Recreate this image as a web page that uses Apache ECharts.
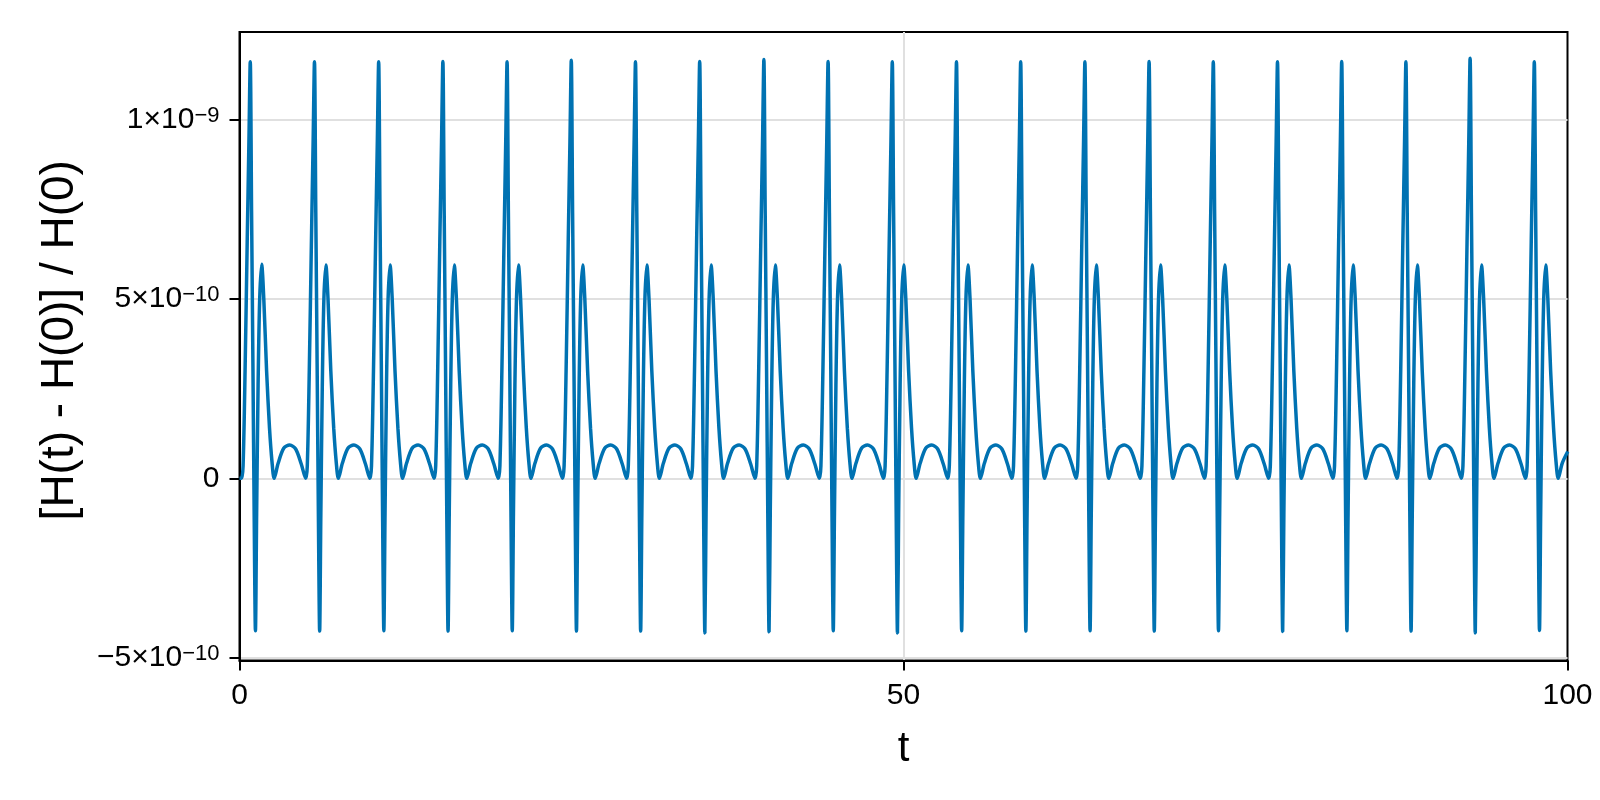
<!DOCTYPE html>
<html>
<head>
<meta charset="utf-8">
<script src="https://cdn.jsdelivr.net/npm/echarts@6/dist/echarts.min.js"></script>
<style>
  html, body { margin: 0; padding: 0; background: #ffffff; }
  #chart { width: 1600px; height: 800px; }
</style>
</head>
<body>
<div id="chart"></div>
<script>
// ---- data (values in units of 1e-10) ----
const valueUnit = 1e-10;
const startT = [0];
const startV = [0.0];
// time of each tall spike (one per orbit)
const peakTimes = [0.81, 5.645, 10.479, 15.314, 20.148, 24.983, 29.817, 34.652, 39.486, 44.321,
  49.155, 53.99, 58.824, 63.659, 68.493, 73.328, 78.162, 82.997, 87.831, 92.666, 97.5];
// time offsets of the sampled points inside one orbit, relative to its spike
const phaseOffsets = [-0.66, -0.54, -0.39, -0.23, -0.10, 0, 0.10, 0.20, 0.30, 0.39, 0.48, 0.59,
  0.71, 0.86, 1.02, 1.23, 1.45, 1.64, 1.80, 2.10, 2.52, 2.97, 3.42, 3.84];
// sampled values of each orbit
const cycleValues = [
  [0.00, 0.35, 3.0, 6.6, 9.4, 11.62, 7.4, 3.2, -1.2, -4.25, -1.0, 2.6, 5.0, 5.97, 5.0, 3.0, 1.4, 0.45, 0.00, 0.42, 0.84, 0.93, 0.82, 0.40],
  [0.00, 0.35, 3.0, 6.6, 9.4, 11.62, 7.4, 3.2, -1.2, -4.26, -1.0, 2.6, 5.0, 5.95, 5.0, 3.0, 1.4, 0.45, 0.00, 0.42, 0.84, 0.93, 0.82, 0.40],
  [0.00, 0.35, 3.0, 6.6, 9.4, 11.62, 7.4, 3.2, -1.2, -4.25, -1.0, 2.6, 5.0, 5.95, 5.0, 3.0, 1.4, 0.45, 0.00, 0.42, 0.84, 0.93, 0.82, 0.40],
  [0.00, 0.35, 3.0, 6.6, 9.4, 11.63, 7.4, 3.2, -1.2, -4.26, -1.0, 2.6, 5.0, 5.95, 5.0, 3.0, 1.4, 0.45, 0.00, 0.42, 0.84, 0.93, 0.82, 0.40],
  [0.00, 0.35, 3.0, 6.6, 9.4, 11.62, 7.4, 3.2, -1.2, -4.25, -1.0, 2.6, 5.0, 5.95, 5.0, 3.0, 1.4, 0.45, 0.00, 0.42, 0.84, 0.93, 0.82, 0.40],
  [0.00, 0.35, 3.0, 6.6, 9.4, 11.66, 7.4, 3.2, -1.2, -4.26, -1.0, 2.6, 5.0, 5.95, 5.0, 3.0, 1.4, 0.45, 0.00, 0.42, 0.84, 0.93, 0.82, 0.40],
  [0.00, 0.35, 3.0, 6.6, 9.4, 11.62, 7.4, 3.2, -1.2, -4.26, -1.0, 2.6, 5.0, 5.95, 5.0, 3.0, 1.4, 0.45, 0.00, 0.42, 0.84, 0.93, 0.82, 0.40],
  [0.00, 0.35, 3.0, 6.6, 9.4, 11.63, 7.4, 3.2, -1.2, -4.31, -1.0, 2.6, 5.0, 5.95, 5.0, 3.0, 1.4, 0.45, 0.00, 0.42, 0.84, 0.93, 0.82, 0.40],
  [0.00, 0.35, 3.0, 6.6, 9.4, 11.68, 7.4, 3.2, -1.2, -4.28, -1.0, 2.6, 5.0, 5.95, 5.0, 3.0, 1.4, 0.45, 0.00, 0.42, 0.84, 0.93, 0.82, 0.40],
  [0.00, 0.35, 3.0, 6.6, 9.4, 11.63, 7.4, 3.2, -1.2, -4.25, -1.0, 2.6, 5.0, 5.95, 5.0, 3.0, 1.4, 0.45, 0.00, 0.42, 0.84, 0.93, 0.82, 0.40],
  [0.00, 0.35, 3.0, 6.6, 9.4, 11.62, 7.4, 3.2, -1.2, -4.31, -1.0, 2.6, 5.0, 5.95, 5.0, 3.0, 1.4, 0.45, 0.00, 0.42, 0.84, 0.93, 0.82, 0.40],
  [0.00, 0.35, 3.0, 6.6, 9.4, 11.62, 7.4, 3.2, -1.2, -4.25, -1.0, 2.6, 5.0, 5.95, 5.0, 3.0, 1.4, 0.45, 0.00, 0.42, 0.84, 0.93, 0.82, 0.40],
  [0.00, 0.35, 3.0, 6.6, 9.4, 11.62, 7.4, 3.2, -1.2, -4.26, -1.0, 2.6, 5.0, 5.95, 5.0, 3.0, 1.4, 0.45, 0.00, 0.42, 0.84, 0.93, 0.82, 0.40],
  [0.00, 0.35, 3.0, 6.6, 9.4, 11.62, 7.4, 3.2, -1.2, -4.25, -1.0, 2.6, 5.0, 5.95, 5.0, 3.0, 1.4, 0.45, 0.00, 0.42, 0.84, 0.93, 0.82, 0.40],
  [0.00, 0.35, 3.0, 6.6, 9.4, 11.63, 7.4, 3.2, -1.2, -4.26, -1.0, 2.6, 5.0, 5.95, 5.0, 3.0, 1.4, 0.45, 0.00, 0.42, 0.84, 0.93, 0.82, 0.40],
  [0.00, 0.35, 3.0, 6.6, 9.4, 11.62, 7.4, 3.2, -1.2, -4.25, -1.0, 2.6, 5.0, 5.95, 5.0, 3.0, 1.4, 0.45, 0.00, 0.42, 0.84, 0.93, 0.82, 0.40],
  [0.00, 0.35, 3.0, 6.6, 9.4, 11.62, 7.4, 3.2, -1.2, -4.27, -1.0, 2.6, 5.0, 5.95, 5.0, 3.0, 1.4, 0.45, 0.00, 0.42, 0.84, 0.93, 0.82, 0.40],
  [0.00, 0.35, 3.0, 6.6, 9.4, 11.63, 7.4, 3.2, -1.2, -4.25, -1.0, 2.6, 5.0, 5.95, 5.0, 3.0, 1.4, 0.45, 0.00, 0.42, 0.84, 0.93, 0.82, 0.40],
  [0.00, 0.35, 3.0, 6.6, 9.4, 11.62, 7.4, 3.2, -1.2, -4.26, -1.0, 2.6, 5.0, 5.95, 5.0, 3.0, 1.4, 0.45, 0.00, 0.42, 0.84, 0.93, 0.82, 0.40],
  [0.00, 0.35, 3.0, 6.6, 9.4, 11.72, 7.4, 3.2, -1.2, -4.31, -1.0, 2.6, 5.0, 5.95, 5.0, 3.0, 1.4, 0.45, 0.00, 0.42, 0.84, 0.93, 0.82, 0.40],
  [0.00, 0.35, 3.0, 6.6, 9.4, 11.62, 7.4, 3.2, -1.2, -4.24, -1.0, 2.6, 5.0, 5.95, 5.0, 3.0, 1.4, 0.45, 0.00, 0.42, 0.75]
];
const yTickValues = [-5e-10, 0, 5e-10, 1e-9];
const yTickLabels = ['{b|\u22125\u00d710}{s|\u221210}', '{z|0}', '{b|5\u00d710}{s|\u221210}', '{b|1\u00d710}{s|\u22129}'];
const xLabel = 't';
const yLabel = '[H(t) - H(0)] / H(0)';

// ---- build series points ----
const points = [];
for (let i = 0; i < startT.length; i++) points.push([startT[i], startV[i] * valueUnit]);
cycleValues.forEach((row, k) => {
  row.forEach((v, i) => points.push([peakTimes[k] + phaseOffsets[i], v * valueUnit]));
});

const FONT = "'Liberation Sans', Arial, Helvetica, sans-serif";
const chart = echarts.init(document.getElementById('chart'), null, { renderer: 'canvas' });
chart.setOption({
  animation: false,
  backgroundColor: '#ffffff',
  grid: {
    left: 239.5, right: 32.5, top: 32, bottom: 139.5,
    show: true, borderColor: '#000000', borderWidth: 2,
    containLabel: false, outerBoundsMode: 'none'
  },
  xAxis: {
    type: 'value', min: 0, max: 100, interval: 50,
    name: xLabel, nameLocation: 'middle', nameGap: 68,
    nameTextStyle: { fontFamily: FONT, fontSize: 42, color: '#000' },
    axisLine: { show: true, onZero: false, lineStyle: { color: '#000', width: 2 } },
    axisTick: { show: true, inside: false, length: 10, lineStyle: { color: '#000', width: 2 } },
    axisLabel: { fontFamily: FONT, fontSize: 30, color: '#000', margin: 20,
      formatter: v => String(v) },
    splitLine: { show: true, showMinLine: false, showMaxLine: false,
      lineStyle: { color: '#e0e0e0', width: 2 } }
  },
  yAxis: {
    type: 'value', min: -5.08e-10, max: 1.245e-9,
    name: yLabel, nameLocation: 'middle', nameGap: 156, nameRotate: 90,
    nameTextStyle: { fontFamily: FONT, fontSize: 46, color: '#000', padding: [0, 0, 0, 12] },
    axisLine: { show: true, onZero: false, lineStyle: { color: '#000', width: 2 } },
    axisTick: { show: true, inside: false, length: 10, customValues: yTickValues,
      lineStyle: { color: '#000', width: 2 } },
    axisLabel: {
      customValues: yTickValues, margin: 20, color: '#000',
      formatter: v => {
        let best = 0, d = Infinity;
        yTickValues.forEach((tv, i) => { const dd = Math.abs(tv - v); if (dd < d) { d = dd; best = i; } });
        return yTickLabels[best];
      },
      rich: {
        b: { fontFamily: FONT, fontSize: 30, lineHeight: 30, color: '#000', verticalAlign: 'bottom', padding: [5, 0, 0, 0] },
        s: { fontFamily: FONT, fontSize: 22, lineHeight: 22, color: '#000', verticalAlign: 'top' },
        z: { fontFamily: FONT, fontSize: 30, lineHeight: 30, color: '#000' }
      }
    },
    splitLine: { show: true, lineStyle: { color: '#e0e0e0', width: 2 } }
  },
  series: [{
    type: 'line',
    data: points,
    showSymbol: false,
    smooth: 0.3,
    clip: true,
    lineStyle: { color: '#0072b2', width: 3.5 },
    itemStyle: { color: '#0072b2' }
  }]
});
</script>
</body>
</html>
